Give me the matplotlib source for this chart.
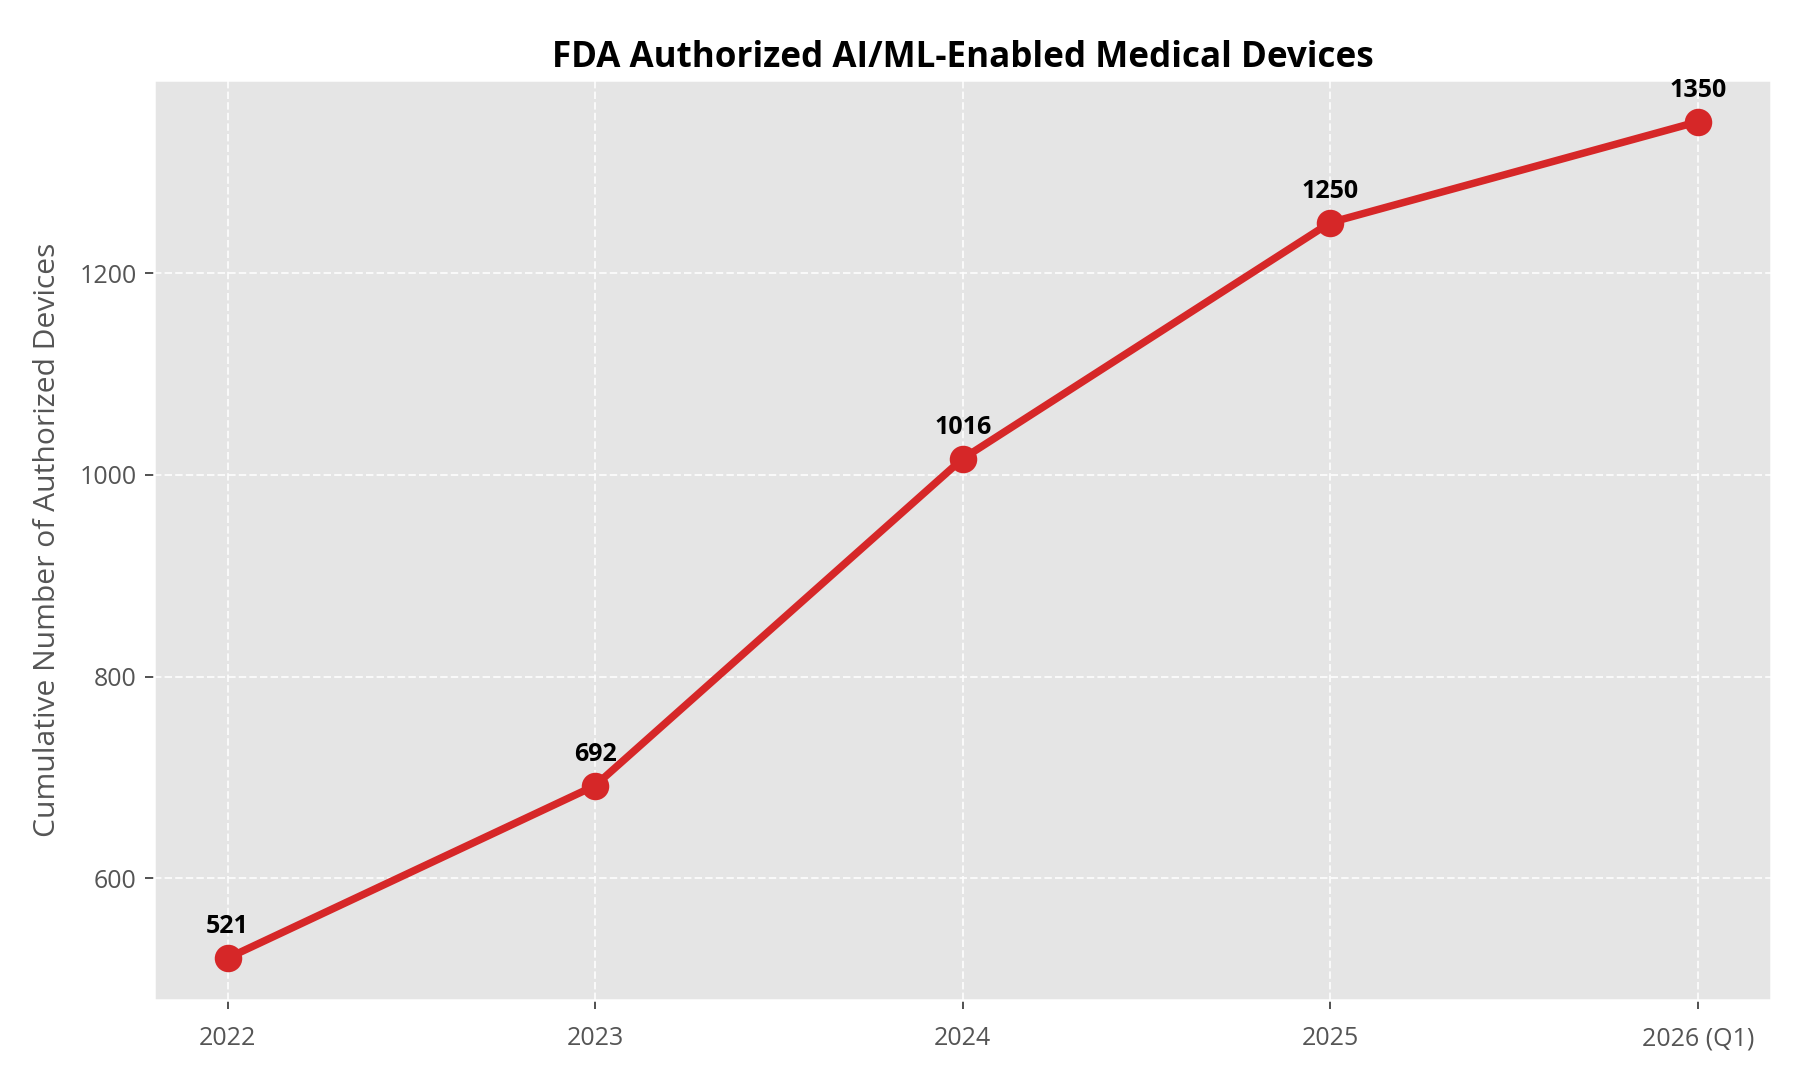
import matplotlib
matplotlib.use("Agg")
import matplotlib.pyplot as plt

categories = ["2022", "2023", "2024", "2025", "2026 (Q1)"]
devices = [521, 692, 1016, 1250, 1350]

plt.style.use("ggplot")
plt.rcParams['font.family'] = ['Open Sans', 'DejaVu Sans']

fig, ax = plt.subplots(figsize=(10, 6), dpi=180)
fig.subplots_adjust(left=0.0856, right=0.984, bottom=0.0741, top=0.926)
x = list(range(len(categories)))
ax.plot(x, devices, color="#d62728", linewidth=3, marker="o", markersize=10)
for xi, v in zip(x, devices):
    ax.annotate(str(v), (xi, v), textcoords="offset points", xytext=(0, 10),
                ha="center", fontsize=10, fontweight="bold", color="black")
ax.set_xticks(x)
ax.set_xticklabels(categories)
ax.set_title("FDA Authorized AI/ML-Enabled Medical Devices", fontsize=14,
             fontweight="bold", color="black", pad=5)
ax.set_ylabel("Cumulative Number of Authorized Devices", fontsize=12,
              color="#555555", labelpad=7)
ax.grid(True, linestyle="--", color="white", alpha=0.8)
ax.tick_params(labelsize=10, colors="#555555")
ax.tick_params(axis="x", pad=7)
fig.savefig("out.png", dpi=180)
